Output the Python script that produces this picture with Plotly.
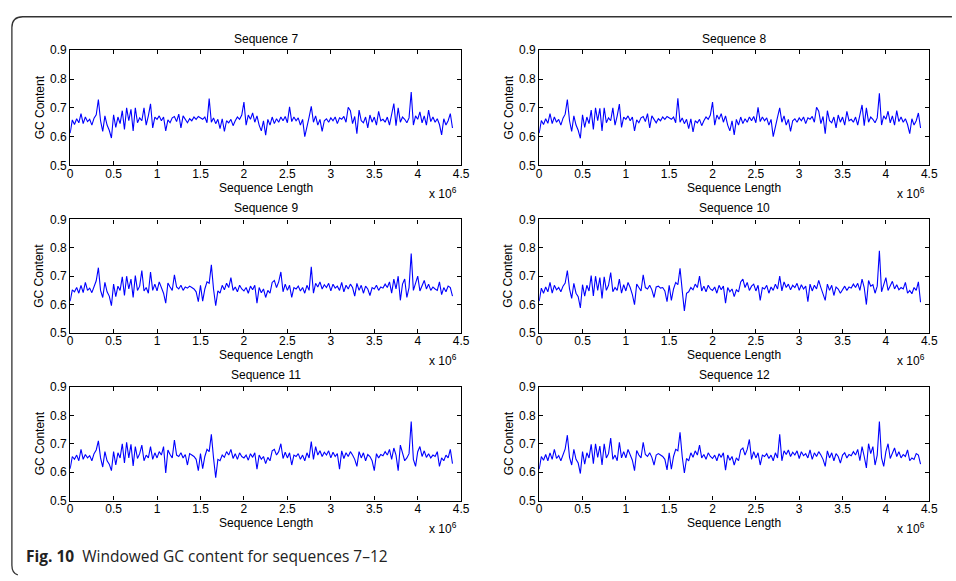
import plotly.graph_objects as go

# Windowed GC content, one value per 25 kb window
window_size = 25000

seq7 = [
    0.612, 0.658, 0.642, 0.662, 0.648, 0.680, 0.645, 0.668, 0.652, 0.660,
    0.640, 0.664, 0.676, 0.729, 0.655, 0.618, 0.672, 0.640, 0.622, 0.595,
    0.676, 0.632, 0.668, 0.645, 0.690, 0.625, 0.700, 0.655, 0.695, 0.620,
    0.700, 0.648, 0.665, 0.655, 0.700, 0.640, 0.672, 0.714, 0.630, 0.668,
    0.660, 0.672, 0.655, 0.668, 0.620, 0.658, 0.648, 0.665, 0.670, 0.652,
    0.678, 0.630, 0.672, 0.660, 0.648, 0.662, 0.655, 0.668, 0.660, 0.670,
    0.664, 0.660, 0.668, 0.648, 0.732, 0.650, 0.665, 0.645, 0.660, 0.628,
    0.662, 0.618, 0.655, 0.648, 0.660, 0.638, 0.655, 0.668, 0.660, 0.675,
    0.720, 0.640, 0.675, 0.660, 0.682, 0.650, 0.672, 0.640, 0.620, 0.655,
    0.605, 0.660, 0.640, 0.668, 0.645, 0.662, 0.650, 0.668, 0.655, 0.670,
    0.648, 0.703, 0.652, 0.668, 0.655, 0.665, 0.640, 0.660, 0.600, 0.640,
    0.668, 0.705, 0.650, 0.672, 0.640, 0.660, 0.618, 0.655, 0.662, 0.650,
    0.665, 0.655, 0.668, 0.645, 0.665, 0.660, 0.670, 0.650, 0.702, 0.690,
    0.645, 0.670, 0.610, 0.692, 0.655, 0.648, 0.668, 0.630, 0.675, 0.650,
    0.668, 0.640, 0.688, 0.655, 0.660, 0.650, 0.668, 0.640, 0.672, 0.715,
    0.638, 0.700, 0.650, 0.668, 0.660, 0.648, 0.665, 0.755, 0.640, 0.672,
    0.660, 0.686, 0.648, 0.672, 0.640, 0.692, 0.652, 0.668, 0.650, 0.662,
    0.642, 0.606, 0.662, 0.640, 0.655, 0.680, 0.630,
]

seq8 = [
    0.612, 0.656, 0.642, 0.662, 0.646, 0.680, 0.645, 0.668, 0.650, 0.660,
    0.640, 0.664, 0.678, 0.729, 0.655, 0.618, 0.672, 0.640, 0.622, 0.594,
    0.676, 0.632, 0.668, 0.645, 0.692, 0.625, 0.700, 0.655, 0.698, 0.620,
    0.700, 0.648, 0.665, 0.655, 0.700, 0.640, 0.672, 0.713, 0.632, 0.668,
    0.660, 0.672, 0.655, 0.668, 0.620, 0.658, 0.648, 0.665, 0.670, 0.652,
    0.680, 0.630, 0.672, 0.660, 0.648, 0.662, 0.655, 0.668, 0.660, 0.670,
    0.664, 0.660, 0.668, 0.648, 0.733, 0.650, 0.665, 0.645, 0.660, 0.628,
    0.662, 0.616, 0.655, 0.648, 0.660, 0.638, 0.655, 0.668, 0.660, 0.675,
    0.720, 0.640, 0.675, 0.660, 0.680, 0.650, 0.672, 0.640, 0.620, 0.655,
    0.606, 0.660, 0.640, 0.668, 0.645, 0.662, 0.650, 0.668, 0.655, 0.670,
    0.648, 0.702, 0.652, 0.668, 0.655, 0.665, 0.640, 0.660, 0.600, 0.640,
    0.668, 0.700, 0.650, 0.672, 0.640, 0.660, 0.618, 0.655, 0.662, 0.650,
    0.665, 0.655, 0.668, 0.645, 0.665, 0.660, 0.670, 0.650, 0.702, 0.688,
    0.645, 0.670, 0.610, 0.690, 0.655, 0.648, 0.668, 0.630, 0.675, 0.650,
    0.668, 0.640, 0.688, 0.655, 0.660, 0.650, 0.668, 0.640, 0.672, 0.710,
    0.638, 0.700, 0.650, 0.668, 0.660, 0.648, 0.665, 0.750, 0.640, 0.672,
    0.660, 0.688, 0.648, 0.672, 0.640, 0.690, 0.652, 0.668, 0.650, 0.662,
    0.642, 0.610, 0.662, 0.640, 0.655, 0.682, 0.630,
]

seq9 = [
    0.612, 0.652, 0.645, 0.660, 0.640, 0.668, 0.642, 0.678, 0.650, 0.658,
    0.642, 0.666, 0.684, 0.730, 0.650, 0.625, 0.678, 0.645, 0.630, 0.596,
    0.672, 0.628, 0.665, 0.650, 0.698, 0.632, 0.700, 0.655, 0.690, 0.625,
    0.702, 0.650, 0.665, 0.720, 0.648, 0.660, 0.640, 0.715, 0.650, 0.672,
    0.648, 0.680, 0.660, 0.640, 0.605, 0.676, 0.662, 0.650, 0.705, 0.662,
    0.655, 0.668, 0.650, 0.662, 0.658, 0.665, 0.660, 0.655, 0.645, 0.610,
    0.668, 0.612, 0.655, 0.680, 0.675, 0.740, 0.655, 0.596, 0.648, 0.640,
    0.668, 0.652, 0.675, 0.660, 0.695, 0.650, 0.662, 0.645, 0.668, 0.655,
    0.648, 0.660, 0.640, 0.665, 0.652, 0.668, 0.605, 0.660, 0.642, 0.655,
    0.625, 0.650, 0.640, 0.678, 0.685, 0.660, 0.680, 0.715, 0.645, 0.672,
    0.650, 0.668, 0.625, 0.660, 0.655, 0.665, 0.648, 0.660, 0.640, 0.668,
    0.650, 0.733, 0.640, 0.675, 0.662, 0.680, 0.655, 0.670, 0.660, 0.675,
    0.648, 0.672, 0.658, 0.665, 0.650, 0.678, 0.645, 0.668, 0.655, 0.672,
    0.660, 0.630, 0.675, 0.650, 0.668, 0.640, 0.665, 0.655, 0.632, 0.660,
    0.655, 0.668, 0.650, 0.662, 0.658, 0.672, 0.660, 0.680, 0.640, 0.690,
    0.655, 0.700, 0.615, 0.672, 0.690, 0.625, 0.660, 0.780, 0.650, 0.672,
    0.700, 0.648, 0.665, 0.685, 0.655, 0.672, 0.650, 0.662, 0.655, 0.650,
    0.680, 0.635, 0.660, 0.645, 0.665, 0.660, 0.630,
]

seq10 = [
    0.612, 0.658, 0.640, 0.662, 0.645, 0.678, 0.640, 0.668, 0.652, 0.660,
    0.645, 0.665, 0.676, 0.720, 0.655, 0.622, 0.675, 0.640, 0.628, 0.588,
    0.670, 0.630, 0.668, 0.648, 0.702, 0.630, 0.700, 0.650, 0.695, 0.622,
    0.698, 0.650, 0.668, 0.713, 0.645, 0.660, 0.650, 0.690, 0.640, 0.670,
    0.648, 0.678, 0.660, 0.635, 0.600, 0.672, 0.660, 0.648, 0.705, 0.660,
    0.655, 0.668, 0.652, 0.625, 0.662, 0.665, 0.658, 0.660, 0.648, 0.610,
    0.668, 0.615, 0.655, 0.678, 0.670, 0.728, 0.650, 0.578, 0.640, 0.645,
    0.660, 0.652, 0.672, 0.660, 0.700, 0.648, 0.665, 0.645, 0.668, 0.655,
    0.650, 0.662, 0.640, 0.668, 0.652, 0.665, 0.605, 0.660, 0.645, 0.655,
    0.628, 0.652, 0.645, 0.680, 0.690, 0.660, 0.678, 0.650, 0.665, 0.672,
    0.648, 0.668, 0.615, 0.660, 0.655, 0.668, 0.640, 0.662, 0.650, 0.672,
    0.655, 0.700, 0.648, 0.680, 0.660, 0.672, 0.652, 0.668, 0.660, 0.675,
    0.650, 0.670, 0.655, 0.665, 0.610, 0.672, 0.648, 0.668, 0.655, 0.685,
    0.660, 0.640, 0.615, 0.672, 0.650, 0.668, 0.632, 0.662, 0.655, 0.640,
    0.655, 0.665, 0.650, 0.662, 0.658, 0.672, 0.660, 0.675, 0.650, 0.690,
    0.660, 0.600, 0.685, 0.665, 0.670, 0.640, 0.665, 0.790, 0.645, 0.672,
    0.695, 0.650, 0.668, 0.682, 0.655, 0.670, 0.652, 0.660, 0.655, 0.678,
    0.640, 0.650, 0.638, 0.660, 0.650, 0.680, 0.608,
]

seq11 = [
    0.612, 0.655, 0.645, 0.660, 0.640, 0.680, 0.645, 0.662, 0.650, 0.658,
    0.640, 0.665, 0.678, 0.710, 0.650, 0.618, 0.672, 0.640, 0.628, 0.605,
    0.672, 0.625, 0.668, 0.650, 0.700, 0.632, 0.705, 0.650, 0.698, 0.622,
    0.690, 0.648, 0.665, 0.695, 0.640, 0.660, 0.650, 0.690, 0.645, 0.668,
    0.650, 0.672, 0.660, 0.690, 0.597, 0.678, 0.662, 0.650, 0.713, 0.660,
    0.655, 0.668, 0.650, 0.662, 0.625, 0.665, 0.660, 0.655, 0.645, 0.605,
    0.665, 0.612, 0.655, 0.680, 0.672, 0.733, 0.650, 0.580, 0.645, 0.640,
    0.660, 0.652, 0.672, 0.660, 0.680, 0.648, 0.665, 0.645, 0.668, 0.655,
    0.650, 0.660, 0.642, 0.665, 0.652, 0.668, 0.610, 0.660, 0.645, 0.655,
    0.630, 0.652, 0.640, 0.675, 0.680, 0.660, 0.672, 0.700, 0.648, 0.670,
    0.650, 0.668, 0.625, 0.660, 0.655, 0.665, 0.645, 0.660, 0.640, 0.668,
    0.650, 0.708, 0.645, 0.690, 0.660, 0.675, 0.655, 0.670, 0.660, 0.675,
    0.650, 0.670, 0.655, 0.665, 0.610, 0.675, 0.648, 0.668, 0.655, 0.672,
    0.660, 0.645, 0.620, 0.672, 0.650, 0.668, 0.640, 0.662, 0.655, 0.640,
    0.605, 0.665, 0.650, 0.662, 0.658, 0.672, 0.660, 0.680, 0.645, 0.685,
    0.660, 0.605, 0.695, 0.665, 0.640, 0.650, 0.665, 0.778, 0.645, 0.620,
    0.672, 0.690, 0.655, 0.675, 0.652, 0.665, 0.650, 0.660, 0.655, 0.672,
    0.620, 0.650, 0.640, 0.660, 0.650, 0.680, 0.630,
]

seq12 = [
    0.610, 0.655, 0.642, 0.662, 0.640, 0.668, 0.645, 0.680, 0.648, 0.658,
    0.640, 0.665, 0.682, 0.730, 0.652, 0.625, 0.680, 0.645, 0.632, 0.595,
    0.672, 0.628, 0.668, 0.650, 0.698, 0.630, 0.700, 0.652, 0.692, 0.625,
    0.700, 0.650, 0.665, 0.720, 0.645, 0.660, 0.640, 0.705, 0.650, 0.672,
    0.650, 0.680, 0.660, 0.642, 0.605, 0.676, 0.660, 0.650, 0.705, 0.662,
    0.655, 0.668, 0.652, 0.625, 0.660, 0.665, 0.660, 0.655, 0.645, 0.608,
    0.668, 0.610, 0.655, 0.680, 0.675, 0.740, 0.655, 0.597, 0.648, 0.640,
    0.668, 0.652, 0.675, 0.660, 0.695, 0.650, 0.662, 0.645, 0.668, 0.655,
    0.648, 0.660, 0.640, 0.665, 0.652, 0.668, 0.607, 0.660, 0.642, 0.655,
    0.625, 0.650, 0.640, 0.678, 0.685, 0.660, 0.680, 0.715, 0.645, 0.672,
    0.650, 0.668, 0.625, 0.660, 0.655, 0.665, 0.648, 0.660, 0.640, 0.668,
    0.650, 0.733, 0.640, 0.675, 0.662, 0.678, 0.655, 0.670, 0.660, 0.675,
    0.648, 0.672, 0.658, 0.665, 0.650, 0.678, 0.645, 0.668, 0.655, 0.672,
    0.660, 0.645, 0.620, 0.675, 0.650, 0.668, 0.640, 0.665, 0.655, 0.632,
    0.660, 0.668, 0.650, 0.662, 0.658, 0.672, 0.660, 0.680, 0.640, 0.690,
    0.655, 0.615, 0.700, 0.665, 0.690, 0.625, 0.660, 0.778, 0.650, 0.620,
    0.672, 0.700, 0.648, 0.665, 0.685, 0.655, 0.672, 0.650, 0.662, 0.655,
    0.678, 0.640, 0.650, 0.645, 0.665, 0.660, 0.628,
]

titles = ["Sequence 7", "Sequence 8", "Sequence 9",
          "Sequence 10", "Sequence 11", "Sequence 12"]
series = [seq7, seq8, seq9, seq10, seq11, seq12]

x_tick_vals = [0, 0.5e6, 1e6, 1.5e6, 2e6, 2.5e6, 3e6, 3.5e6, 4e6, 4.5e6]
x_tick_text = ["0", "0.5", "1", "1.5", "2", "2.5", "3", "3.5", "4", "4.5"]
y_tick_vals = [0.5, 0.6, 0.7, 0.8, 0.9]
y_tick_text = ["0.5", "0.6", "0.7", "0.8", "0.9"]

W, H = 956, 581
FONT = "Liberation Sans, Arial, Helvetica, sans-serif"
FS = 12


def px(x):
    return x / W


def py(y):
    return 1 - y / H


# panel boxes in pixels: (left, right), (top, bottom)
cols = [(68, 464), (543, 938)]
rows = [(44.3, 162.3), (217.7, 334.0), (389.3, 505.7)]

fig = go.Figure()
annotations = []
layout_axes = {}

for i, (name, vals) in enumerate(zip(titles, series)):
    r, c = divmod(i, 2)
    (l, rr), (t, b) = cols[c], rows[r]
    n = i + 1
    xa = "x" if n == 1 else f"x{n}"
    ya = "y" if n == 1 else f"y{n}"
    xs = [k * window_size for k in range(len(vals))]
    fig.add_trace(go.Scatter(
        x=xs, y=vals, mode="lines", xaxis=xa, yaxis=ya,
        line=dict(color="#0000ff", width=1.1), showlegend=False,
        hoverinfo="skip",
    ))
    axis_common = dict(
        showline=True, linecolor="black", linewidth=1.2, mirror="ticks",
        ticks="inside", ticklen=4, tickwidth=1, tickcolor="black",
        showgrid=False, zeroline=False,
        tickfont=dict(family=FONT, size=FS, color="black"),
    )
    layout_axes["xaxis" if n == 1 else f"xaxis{n}"] = dict(
        axis_common, domain=[px(l), px(rr)], range=[0, 4.5e6],
        tickmode="array", tickvals=x_tick_vals, ticktext=x_tick_text,
        ticklabelstandoff=-3, anchor=ya,
    )
    layout_axes["yaxis" if n == 1 else f"yaxis{n}"] = dict(
        axis_common, domain=[py(b), py(t)], range=[0.5, 0.9],
        tickmode="array", tickvals=y_tick_vals, ticktext=y_tick_text,
        anchor=xa,
    )
    cx = (l + rr) / 2
    annotations += [
        dict(text=name, x=px(cx), y=py(t - 12), xref="paper", yref="paper",
             showarrow=False, xanchor="center", yanchor="middle",
             font=dict(family=FONT, size=FS, color="black")),
        dict(text="Sequence Length", x=px(cx), y=py(b + 23),
             xref="paper", yref="paper", showarrow=False,
             xanchor="center", yanchor="middle",
             font=dict(family=FONT, size=FS, color="black")),
        dict(text="x 10<sup>6</sup>", x=px(rr - 2), y=py(b + 28),
             xref="paper", yref="paper", showarrow=False,
             xanchor="right", yanchor="middle",
             font=dict(family=FONT, size=FS, color="black")),
        dict(text="GC Content", x=px(l - 31), y=py((t + b) / 2),
             xref="paper", yref="paper", showarrow=False, textangle=-90,
             xanchor="center", yanchor="middle",
             font=dict(family=FONT, size=FS, color="black")),
    ]

# figure caption
annotations.append(dict(
    text="<b>Fig. 10</b>  Windowed GC content for sequences 7–12",
    x=px(21), y=py(563), xref="paper", yref="paper", showarrow=False,
    xanchor="left", yanchor="middle",
    font=dict(family="Open Sans, Noto Sans, sans-serif", size=15.5,
              color="#222222"),
))

# rounded frame around the figure
frame_path = (
    f"M {px(W + 5)},{py(10)} L {px(20)},{py(10)} "
    f"Q {px(9)},{py(10)} {px(9)},{py(21)} "
    f"L {px(9)},{py(572)} Q {px(9)},{py(580)} {px(15)},{py(582)}"
)
shapes = [dict(type="path", path=frame_path, xref="paper", yref="paper",
               line=dict(color="#333333", width=1.3))]

fig.update_layout(
    width=W, height=H,
    margin=dict(l=0, r=0, t=0, b=0),
    paper_bgcolor="white", plot_bgcolor="white",
    annotations=annotations, shapes=shapes,
    **layout_axes,
)

fig.write_html("out.html")
